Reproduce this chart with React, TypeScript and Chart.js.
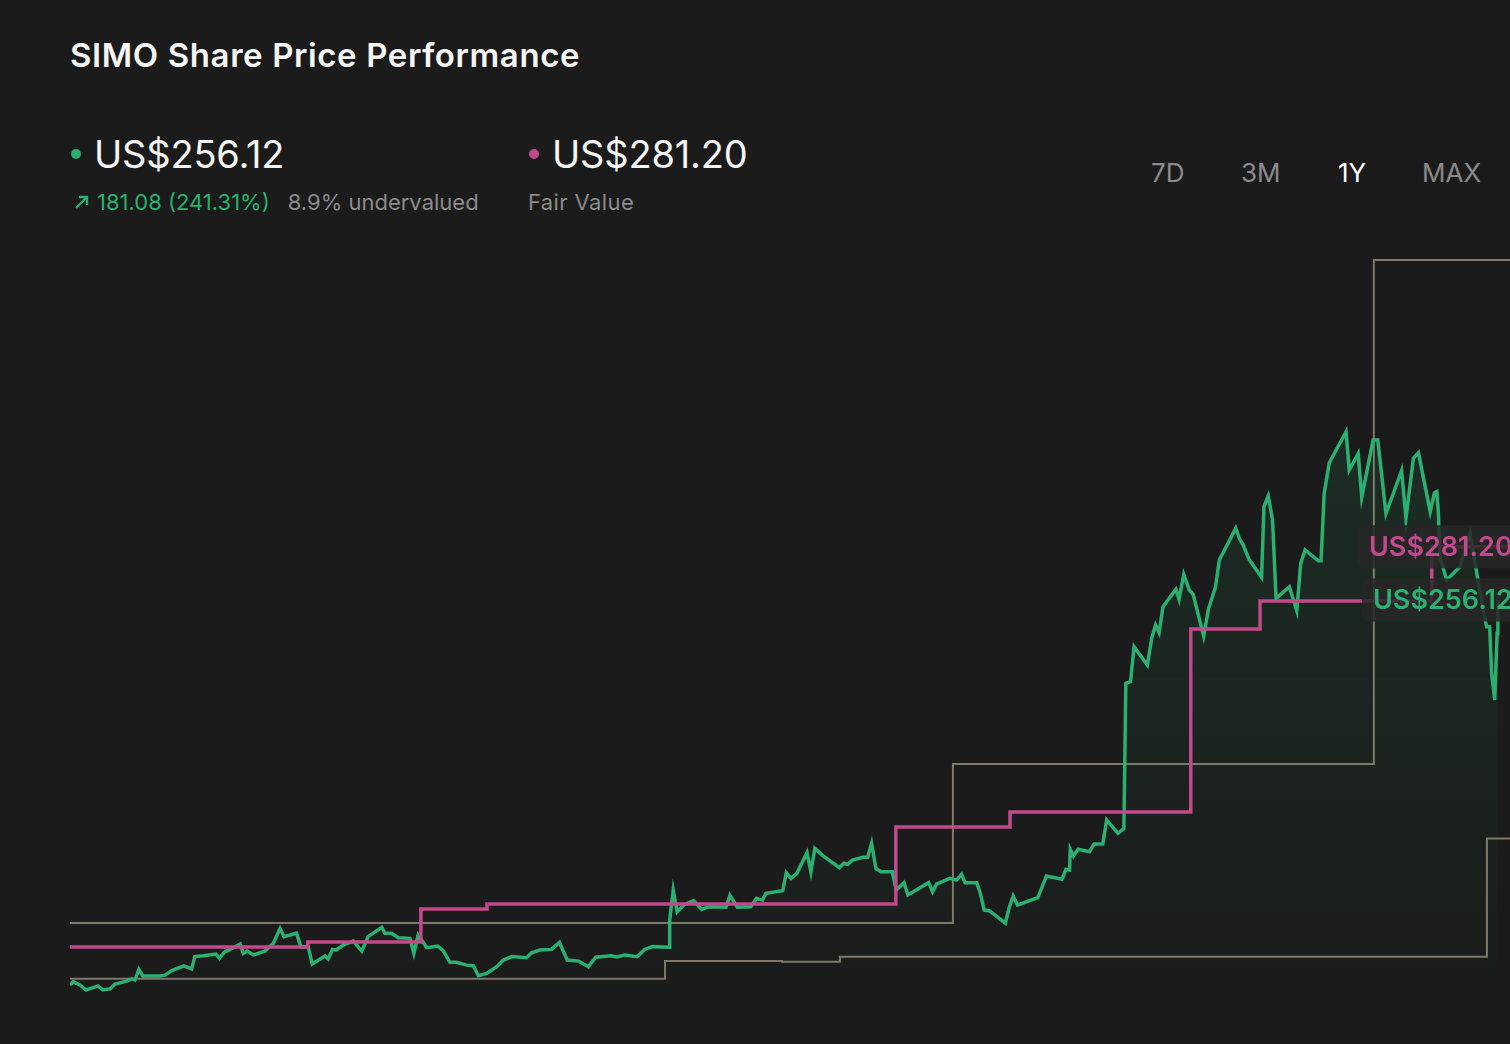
import { useEffect, useRef } from "react";
import { Chart, registerables, type ChartConfiguration, type Plugin } from "chart.js";

Chart.register(...registerables);

// x = days since the start of the 1Y window, y = share price in US$
const PRICE_SERIES: [number, number][] = [
  [0, 75.0], [0.8, 76.6], [2.6, 75.0], [4.1, 72.7], [7.2, 74.6], [8.4, 72.7], [10.2, 73.2], [11.5, 75.5],
  [14.5, 76.9], [15.8, 78.0], [16.6, 77.4], [17.6, 82.4], [18.6, 79.3], [23.0, 79.3], [24.3, 79.7], [26.0, 81.8],
  [29.1, 84.1], [31.1, 82.6], [31.9, 88.4], [34.1, 88.8], [37.3, 89.6], [38.2, 87.6], [39.4, 90.4], [43.5, 94.3],
  [44.3, 89.9], [45.3, 91.0], [46.9, 89.2], [49.8, 91.0], [52.0, 94.7], [53.7, 101.7], [54.7, 97.8], [57.9, 99.4],
  [59.0, 93.1], [60.9, 93.1], [61.9, 84.9], [65.2, 88.7], [66.0, 87.3], [67.1, 91.8], [68.0, 91.5], [69.9, 93.9],
  [72.4, 95.7], [74.6, 91.0], [76.2, 97.8], [79.7, 102.2], [80.5, 99.4], [82.2, 99.4], [83.9, 97.3], [86.9, 97.0],
  [87.9, 89.9], [89.0, 98.6], [91.2, 92.6], [94.0, 93.4], [95.4, 91.2], [97.1, 85.7], [98.8, 85.7], [101.4, 84.4],
  [103.1, 84.1], [104.4, 79.4], [106.5, 80.5], [109.1, 83.7], [110.8, 86.8], [112.9, 88.4], [116.7, 87.9], [118.0, 90.2],
  [120.1, 91.5], [123.1, 91.8], [125.1, 95.1], [127.1, 86.8], [130.0, 86.3], [132.5, 83.6], [134.4, 88.1], [138.3, 88.8],
  [139.8, 88.2], [141.8, 89.2], [145.0, 88.4], [146.9, 91.8], [148.9, 93.1], [153.2, 92.8], [153.3, 105.6], [154.2, 119.7],
  [155.2, 109.5], [156.9, 112.7], [159.4, 114.7], [161.5, 110.6], [163.3, 111.9], [167.7, 111.6], [168.7, 117.2], [170.6, 111.6],
  [174.0, 111.9], [175.5, 115.8], [177.0, 115.0], [177.9, 118.2], [182.2, 119.4], [183.1, 127.9], [184.3, 125.2], [185.8, 127.6],
  [188.4, 137.3], [189.4, 128.3], [190.4, 139.3], [192.6, 135.7], [196.7, 130.2], [197.8, 132.3], [198.8, 131.8], [200.0, 133.8],
  [202.7, 135.1], [203.9, 135.1], [204.9, 141.7], [206.0, 129.9], [207.3, 128.3], [210.2, 128.3], [211.2, 119.7], [213.2, 123.2],
  [214.2, 117.4], [219.5, 123.2], [220.5, 118.9], [221.5, 122.5], [224.9, 125.2], [226.6, 124.4], [227.9, 127.1], [228.8, 123.2],
  [231.8, 123.2], [232.7, 118.2], [233.7, 110.3], [235.0, 110.0], [239.1, 104.1], [240.1, 111.6], [241.1, 116.9], [242.2, 112.7],
  [247.4, 116.1], [249.6, 126.3], [253.6, 124.8], [254.6, 129.5], [255.5, 129.1], [255.7, 138.9], [256.5, 135.7], [257.7, 138.9],
  [260.6, 137.7], [261.8, 141.4], [264.0, 141.4], [265.0, 152.7], [267.9, 146.4], [269.4, 148.7], [269.9, 217.0], [271.1, 217.7],
  [272.0, 234.2], [275.4, 225.6], [276.5, 238.1], [277.5, 244.4], [278.4, 240.8], [279.4, 253.0], [282.7, 261.2], [283.5, 256.5],
  [284.7, 268.2], [286.1, 260.9], [287.1, 258.8], [289.8, 239.2], [291.0, 251.8], [292.8, 262.1], [293.8, 275.0], [298.0, 289.9],
  [298.9, 285.2], [299.9, 282.0], [301.4, 275.3], [304.6, 266.8], [305.2, 300.0], [306.3, 305.1], [307.4, 293.8], [308.3, 256.9],
  [311.7, 262.4], [313.6, 251.1], [314.6, 273.4], [315.7, 279.7], [319.1, 274.6], [319.8, 274.6], [320.6, 306.3], [321.9, 320.7],
  [326.2, 335.3], [327.0, 317.3], [329.3, 325.1], [330.2, 304.5], [333.1, 331.4], [334.3, 331.4], [336.4, 296.9], [340.4, 317.0],
  [341.5, 294.6], [343.4, 322.8], [344.7, 325.4], [347.7, 297.7], [348.8, 306.6], [349.4, 307.1], [349.8, 296.9], [350.2, 276.5],
  [351.9, 265.6], [355.3, 271.8], [357.9, 287.5], [359.6, 268.7], [362.1, 243.6], [362.9, 243.6], [363.4, 221.7], [364.2, 209.1],
  [364.8, 240.5], [365, 256.12],
];

// stepped series: [day the level starts, level]
const FAIR_VALUE_STEPS: [number, number][] = [
  [0, 92.9], [60.8, 95.3], [89.7, 110.8], [106.6, 113.1], [211.1, 149.4], [240.3, 156.4],
  [286.5, 242.5], [304.2, 255.7], [348.1, 281.2], [368.1, 281.2],
];
const HIGH_TARGET_STEPS: [number, number][] = [
  [0, 104.2], [225.7, 179.0], [333.3, 416.1], [368.1, 416.1],
];
const LOW_TARGET_STEPS: [number, number][] = [
  [0, 78.0], [152.1, 86.3], [182.0, 86.0], [196.8, 88.4], [362.2, 144.0], [368.1, 144.0],
];

const LAST_PRICE = 256.12;
const FAIR_VALUE = 281.2;
const PRICE_CHANGE = "181.08 (241.31%)";
const VALUATION = "8.9% undervalued";
const RANGES = ["7D", "3M", "1Y", "MAX"];
const ACTIVE_RANGE = "1Y";

const GREEN = "#2bb071";
const PINK = "#c24a8c";
const GRAY_LINE = "#7d7868";
const BG = "#1b1b1b";
const MUTED = "#8a8a8a";
const FONT = "Inter, 'Noto Sans', sans-serif";

const toPoints = (s: [number, number][]) => s.map(([x, y]) => ({ x, y }));

const endLabels: Plugin<"line"> = {
  id: "endLabels",
  afterDatasetsDraw(chart) {
    const { ctx } = chart;
    const yScale = chart.scales.y;
    const items = [
      { value: FAIR_VALUE, color: PINK, left: 1288 },
      { value: LAST_PRICE, color: GREEN, left: 1292 },
    ];
    ctx.save();
    ctx.font = `600 27px ${FONT}`;
    ctx.textBaseline = "middle";
    for (const it of items) {
      const cy = yScale.getPixelForValue(it.value);
      ctx.fillStyle = "rgba(40, 40, 40, 0.86)";
      ctx.beginPath();
      ctx.roundRect(it.left, cy - 21.5, 230, 43, 7);
      ctx.fill();
      ctx.fillStyle = it.color;
      ctx.fillText(`US$${it.value.toFixed(2)}`, it.left + 11, cy + 1);
    }
    ctx.restore();
  },
};

function PriceChart() {
  const canvasRef = useRef<HTMLCanvasElement>(null);

  useEffect(() => {
    if (!canvasRef.current) return;
    const step = (data: [number, number][], color: string, width: number) => ({
      data: toPoints(data),
      borderColor: color,
      borderWidth: width,
      stepped: "before" as const,
      pointRadius: 0,
      fill: false,
    });

    const config: ChartConfiguration<"line"> = {
      type: "line",
      data: {
        datasets: [
          step(FAIR_VALUE_STEPS, PINK, 3.5),
          {
            data: toPoints(PRICE_SERIES),
            borderColor: GREEN,
            borderWidth: 3.5,
            pointRadius: 0,
            tension: 0,
            fill: "start",
            backgroundColor: (c) => {
              const area = c.chart.chartArea;
              if (!area) return "transparent";
              const g = c.chart.ctx.createLinearGradient(0, 190, 0, area.bottom);
              g.addColorStop(0, "rgba(43, 176, 113, 0.12)");
              g.addColorStop(1, "rgba(43, 176, 113, 0)");
              return g;
            },
          },
          step(HIGH_TARGET_STEPS, GRAY_LINE, 2),
          step(LOW_TARGET_STEPS, GRAY_LINE, 2),
        ],
      },
      options: {
        responsive: true,
        maintainAspectRatio: false,
        animation: false,
        layout: { padding: 0 },
        scales: {
          x: { type: "linear", min: 0, max: 368.1, display: false },
          y: { type: "linear", min: 47.3, max: 425.5, display: false },
        },
        plugins: {
          legend: { display: false },
          tooltip: { enabled: false },
        },
      },
      plugins: [endLabels],
    };

    const chart = new Chart(canvasRef.current, config);
    return () => chart.destroy();
  }, []);

  return (
    <div style={{ position: "absolute", left: 70, top: 240, width: 1440, height: 804 }}>
      <canvas ref={canvasRef} />
    </div>
  );
}

const dot = (color: string) => (
  <span
    style={{
      position: "absolute",
      width: 10,
      height: 10,
      borderRadius: 5,
      background: color,
    }}
  />
);

export default function App() {
  return (
    <div
      style={{
        position: "fixed",
        left: 0,
        top: 0,
        width: 1510,
        height: 1044,
        overflow: "hidden",
        background: BG,
        fontFamily: FONT,
        color: "#f5f5f5",
      }}
    >
      <div
        style={{
          position: "absolute",
          left: 70,
          top: 39,
          fontSize: 33,
          fontWeight: 600,
          lineHeight: 1,
          letterSpacing: 0.6,
        }}
      >
        SIMO Share Price Performance
      </div>

      <div style={{ position: "absolute", left: 71, top: 149 }}>{dot(GREEN)}</div>
      <div style={{ position: "absolute", left: 94, top: 135, fontSize: 38, lineHeight: 1, letterSpacing: -0.2 }}>
        US${LAST_PRICE.toFixed(2)}
      </div>
      <div
        style={{
          position: "absolute",
          left: 73,
          top: 191,
          fontSize: 22,
          lineHeight: 1,
          display: "flex",
          alignItems: "center",
        }}
      >
        <svg width="18" height="18" viewBox="0 0 18 18" style={{ marginRight: 6 }}>
          <path d="M3 15 L14 4 M6 4 H14 V12" stroke={GREEN} strokeWidth="2.4" fill="none" />
        </svg>
        <span style={{ color: GREEN }}>{PRICE_CHANGE}</span>
        <span style={{ color: MUTED, marginLeft: 18 }}>{VALUATION}</span>
      </div>

      <div style={{ position: "absolute", left: 529, top: 149 }}>{dot(PINK)}</div>
      <div style={{ position: "absolute", left: 552, top: 135, fontSize: 38, lineHeight: 1, letterSpacing: -0.2 }}>
        US${FAIR_VALUE.toFixed(2)}
      </div>
      <div style={{ position: "absolute", left: 528, top: 191, fontSize: 22, lineHeight: 1, letterSpacing: 0.4, color: MUTED }}>
        Fair Value
      </div>

      {RANGES.map((r, i) => (
        <div
          key={r}
          style={{
            position: "absolute",
            left: [1151, 1241, 1338, 1422][i],
            top: 160,
            fontSize: 26,
            lineHeight: 1,
            color: r === ACTIVE_RANGE ? "#ffffff" : MUTED,
          }}
        >
          {r}
        </div>
      ))}

      <PriceChart />
    </div>
  );
}
